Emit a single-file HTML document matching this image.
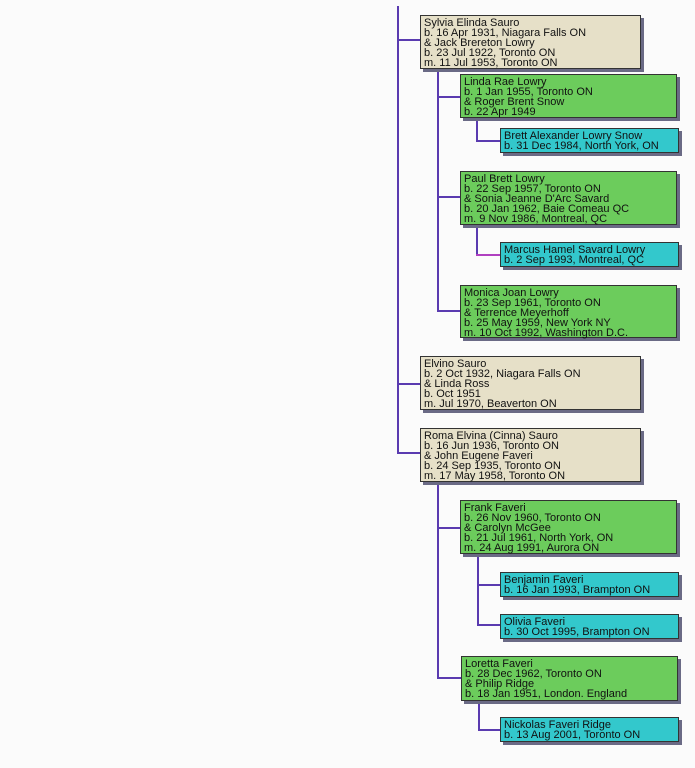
<!DOCTYPE html>
<html><head><meta charset="utf-8"><style>
html,body{margin:0;padding:0;width:695px;height:768px;background:#fbfbfb;overflow:hidden;position:relative}
.b{position:absolute;border:1px solid #333;box-shadow:3px 3px 0 #6a6a85;font-family:"Liberation Sans",sans-serif;font-size:11px;line-height:10px;padding:2px 3px;box-sizing:border-box;color:#111;white-space:nowrap}
.t{background:#e6e0c8}.g{background:#6ccc5c}.c{background:#33c8cc}
.v,.h{position:absolute;background:#5a3bb0}
.v{width:2px}.h{height:2px}
</style></head><body>
<div class="v" style="left:397px;top:6px;height:448px"></div>
<div class="h" style="left:397px;top:39px;width:23px"></div>
<div class="h" style="left:397px;top:383px;width:23px"></div>
<div class="h" style="left:397px;top:452px;width:23px"></div>
<div class="v" style="left:437px;top:69px;height:243px"></div>
<div class="h" style="left:437px;top:96px;width:23px"></div>
<div class="h" style="left:437px;top:196px;width:23px"></div>
<div class="h" style="left:437px;top:310px;width:23px"></div>
<div class="v" style="left:476px;top:118px;height:24px"></div>
<div class="h" style="left:476px;top:140px;width:24px"></div>
<div class="v" style="left:476px;top:225px;height:31px"></div>
<div class="h" style="left:476px;top:254px;width:24px;background:#b040c0"></div>
<div class="v" style="left:437px;top:482px;height:197px"></div>
<div class="h" style="left:437px;top:527px;width:23px"></div>
<div class="h" style="left:437px;top:677px;width:25px"></div>
<div class="v" style="left:477px;top:554px;height:72px"></div>
<div class="h" style="left:477px;top:584px;width:23px"></div>
<div class="h" style="left:477px;top:624px;width:23px"></div>
<div class="v" style="left:478px;top:701px;height:30px"></div>
<div class="h" style="left:478px;top:729px;width:22px"></div>

<div class="b t" style="left:420px;top:15px;width:221px;height:54px">Sylvia Elinda Sauro<br>b. 16 Apr 1931, Niagara Falls ON<br>&amp; Jack Brereton Lowry<br>b. 23 Jul 1922, Toronto ON<br>m. 11 Jul 1953, Toronto ON</div>
<div class="b g" style="left:460px;top:74px;width:217px;height:44px">Linda Rae Lowry<br>b. 1 Jan 1955, Toronto ON<br>&amp; Roger Brent Snow<br>b. 22 Apr 1949</div>
<div class="b c" style="left:500px;top:128px;width:179px;height:25px">Brett Alexander Lowry Snow<br>b. 31 Dec 1984, North York, ON</div>
<div class="b g" style="left:460px;top:171px;width:217px;height:54px">Paul Brett Lowry<br>b. 22 Sep 1957, Toronto ON<br>&amp; Sonia Jeanne D'Arc Savard<br>b. 20 Jan 1962, Baie Comeau QC<br>m. 9 Nov 1986, Montreal, QC</div>
<div class="b c" style="left:500px;top:242px;width:179px;height:25px">Marcus Hamel Savard Lowry<br>b. 2 Sep 1993, Montreal, QC</div>
<div class="b g" style="left:460px;top:285px;width:217px;height:53px">Monica Joan Lowry<br>b. 23 Sep 1961, Toronto ON<br>&amp; Terrence Meyerhoff<br>b. 25 May 1959, New York NY<br>m. 10 Oct 1992, Washington D.C.</div>
<div class="b t" style="left:420px;top:356px;width:221px;height:54px">Elvino Sauro<br>b. 2 Oct 1932, Niagara Falls ON<br>&amp; Linda Ross<br>b. Oct 1951<br>m. Jul 1970, Beaverton ON</div>
<div class="b t" style="left:420px;top:428px;width:221px;height:54px">Roma Elvina (Cinna) Sauro<br>b. 16 Jun 1936, Toronto ON<br>&amp; John Eugene Faveri<br>b. 24 Sep 1935, Toronto ON<br>m. 17 May 1958, Toronto ON</div>
<div class="b g" style="left:460px;top:500px;width:217px;height:54px">Frank Faveri<br>b. 26 Nov 1960, Toronto ON<br>&amp; Carolyn McGee<br>b. 21 Jul 1961, North York, ON<br>m. 24 Aug 1991, Aurora ON</div>
<div class="b c" style="left:500px;top:572px;width:179px;height:25px">Benjamin Faveri<br>b. 16 Jan 1993, Brampton ON</div>
<div class="b c" style="left:500px;top:614px;width:179px;height:25px">Olivia Faveri<br>b. 30 Oct 1995, Brampton ON</div>
<div class="b g" style="left:461px;top:656px;width:217px;height:45px">Loretta Faveri<br>b. 28 Dec 1962, Toronto ON<br>&amp; Philip Ridge<br>b. 18 Jan 1951, London. England</div>
<div class="b c" style="left:500px;top:717px;width:179px;height:25px">Nickolas Faveri Ridge<br>b. 13 Aug 2001, Toronto ON</div>
</body></html>
